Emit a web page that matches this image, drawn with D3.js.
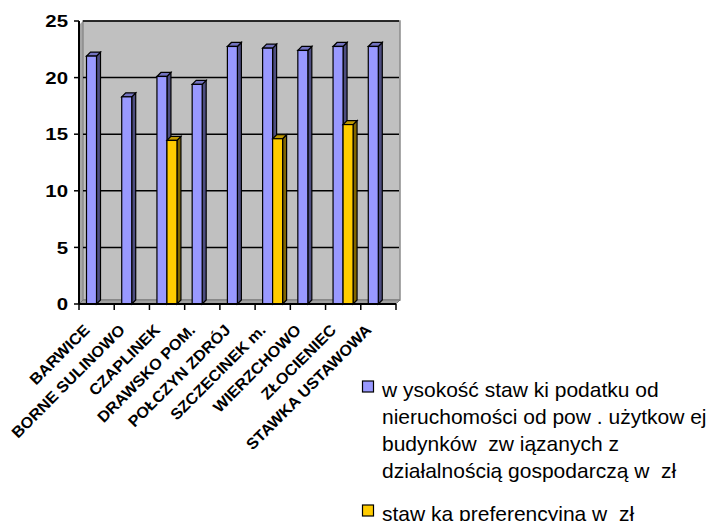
<!DOCTYPE html>
<html>
<head>
<meta charset="utf-8">
<script src="https://cdn.jsdelivr.net/npm/d3@7/dist/d3.min.js"></script>
<style>
  html, body { margin: 0; padding: 0; background: #ffffff; }
  svg { display: block; }
  text { font-family: Arial, "Liberation Sans", sans-serif; white-space: pre; }
</style>
</head>
<body>
<svg id="chart" width="717" height="521"></svg>
<script>
const categories = ["BARWICE", "BORNE SULINOWO", "CZAPLINEK", "DRAWSKO POM.", "POŁCZYN ZDRÓJ",
  "SZCZECINEK m.", "WIERZCHOWO", "ZŁOCIENIEC", "STAWKA USTAWOWA"];
const rateValues = [21.9, 18.3, 20.1, 19.4, 22.75, 22.6, 22.4, 22.75, 22.75];
const prefValues = [null, null, 14.45, null, null, 14.6, null, 15.85, null];
const yTicks = [0, 5, 10, 15, 20, 25];
const seriesKeys = ["rate", "pref"];
const seriesColors = ["#9999FF", "#FFCC00"];
const seriesSide = ["#4D4D80", "#806600"];
const seriesTop = ["#7373C0", "#C09900"];
const legendLines = [
  ["w ysokość staw ki podatku od", "nieruchomości od pow . użytkow ej", "budynków  zw iązanych z", "działalnością gospodarczą w  zł"],
  ["staw ka preferencyjna w  zł"]
];

(function () {
const svg = d3.select("#chart");
const pLeft = 79, pRight = 396, pTop = 21, pBottom = 304, depth = 4;

const x = d3.scaleBand().domain(categories).range([pLeft, pRight]).paddingInner(0).paddingOuter(0);
const xs = d3.scaleBand().domain(seriesKeys).range([7.5, 27.5]).padding(0);
const y = d3.scaleLinear().domain([0, 25]).range([pBottom, pTop]);

// walls
svg.append("polygon")
  .attr("points", [[pLeft, y(25) + depth], [pLeft + depth, y(25)], [pLeft + depth, pBottom - depth], [pLeft, pBottom]].join(" "))
  .attr("fill", "#A6A6A6");
svg.append("rect")
  .attr("x", pLeft + depth).attr("y", y(25))
  .attr("width", pRight - pLeft).attr("height", pBottom - depth - y(25))
  .attr("fill", "#C0C0C0").attr("stroke", "#8C8C8C").attr("stroke-width", 1.5);
svg.append("polygon")
  .attr("points", [[pLeft, pBottom], [pLeft + depth, pBottom - depth], [pRight + depth, pBottom - depth], [pRight, pBottom]].join(" "))
  .attr("fill", "#A0A0A0").attr("stroke", "#707070").attr("stroke-width", 0.8);

// gridlines
svg.append("g").selectAll("line").data(yTicks.filter(d => d > 0)).join("line")
  .attr("x1", pLeft + depth).attr("x2", pRight + depth - 1)
  .attr("y1", d => y(d)).attr("y2", d => y(d))
  .attr("stroke", "#000").attr("stroke-width", 1.5);

// bars
const data = categories.map((c, i) => ({ c, rate: rateValues[i], pref: prefValues[i] }));
seriesKeys.forEach((k, si) => {
  const g = svg.append("g");
  data.filter(d => d[k] != null).forEach(d => {
    const x0 = x(d.c) + xs(k), w = xs.bandwidth(), yt = y(d[k]), yb = y(0);
    g.append("polygon")
      .attr("points", [[x0 + w, yt], [x0 + w + depth, yt - depth], [x0 + w + depth, yb - depth], [x0 + w, yb]].join(" "))
      .attr("fill", seriesSide[si]).attr("stroke", "#000").attr("stroke-width", 1.2);
    g.append("polygon")
      .attr("points", [[x0, yt], [x0 + depth, yt - depth], [x0 + w + depth, yt - depth], [x0 + w, yt]].join(" "))
      .attr("fill", seriesTop[si]).attr("stroke", "#000").attr("stroke-width", 1.2);
    g.append("rect")
      .attr("x", x0).attr("y", yt).attr("width", w).attr("height", yb - yt)
      .attr("fill", seriesColors[si]).attr("stroke", "#000").attr("stroke-width", 1.2);
  });
});

// y axis
const yAxis = svg.append("g");
yAxis.append("line").attr("x1", pLeft).attr("x2", pLeft).attr("y1", y(25)).attr("y2", pBottom)
  .attr("stroke", "#000").attr("stroke-width", 2);
yAxis.selectAll("line.t").data(yTicks).join("line").attr("class", "t")
  .attr("x1", pLeft - 5).attr("x2", pLeft).attr("y1", d => y(d)).attr("y2", d => y(d))
  .attr("stroke", "#000").attr("stroke-width", 1.5);
yAxis.selectAll("text").data(yTicks).join("text")
  .attr("transform", d => `translate(68,${y(d)}) scale(1.2,1)`)
  .attr("text-anchor", "end").attr("dy", "0.36em")
  .attr("font-size", 17).attr("font-weight", "bold").attr("fill", "#000")
  .text(d => d);

// x axis
const xAxis = svg.append("g");
xAxis.append("line").attr("x1", pLeft).attr("x2", pRight).attr("y1", pBottom).attr("y2", pBottom)
  .attr("stroke", "#000").attr("stroke-width", 2);
const tickPos = categories.map(c => x(c)).concat([pRight]);
xAxis.selectAll("line.t").data(tickPos).join("line").attr("class", "t")
  .attr("x1", d => d).attr("x2", d => d).attr("y1", pBottom).attr("y2", pBottom + 6)
  .attr("stroke", "#000").attr("stroke-width", 1.5);
xAxis.selectAll("text").data(categories).join("text")
  .attr("transform", d => `translate(${x(d) + x.bandwidth() / 2 - 6},331) rotate(-45) scale(1.05,1)`)
  .attr("text-anchor", "end")
  .attr("font-size", 15.5).attr("font-weight", "bold").attr("fill", "#000")
  .text(d => d);

// legend
const legend = svg.append("g");
const entryY = [381, 505];
legendLines.forEach((lines, si) => {
  legend.append("rect").attr("x", 362.5).attr("y", entryY[si]).attr("width", 11).attr("height", 11)
    .attr("fill", seriesColors[si]).attr("stroke", "#000").attr("stroke-width", 1.2);
  lines.forEach((t, li) => {
    legend.append("text").attr("x", 382).attr("y", entryY[si] + 16 + li * 27)
      .attr("font-size", 21).attr("fill", "#000").text(t);
  });
});
})();
</script>
</body>
</html>
